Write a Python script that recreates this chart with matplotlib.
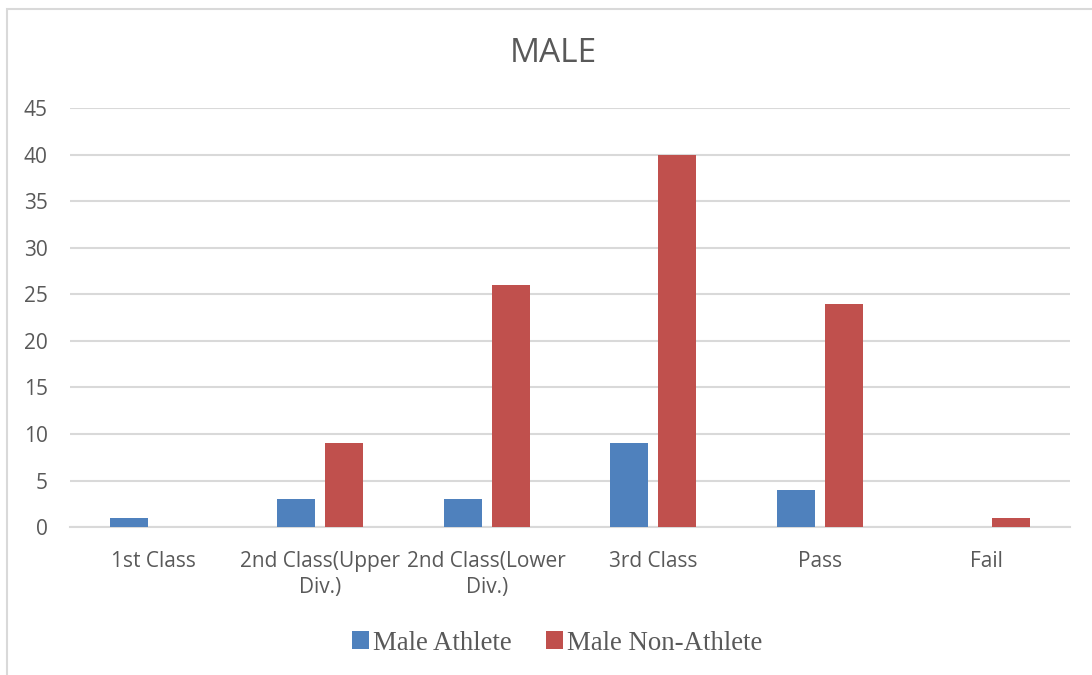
import numpy as np
import matplotlib.pyplot as plt
from matplotlib.patches import Rectangle

# datos
categorias = ["1st Class", "2nd Class(Upper\nDiv.)", "2nd Class(Lower\nDiv.)",
              "3rd Class", "Pass", "Fail"]
atleta = [1, 3, 3, 9, 4, 0]
no_atleta = [0, 9, 26, 40, 24, 1]
serie_nombres = ["Male Athlete", "Male Non-Athlete"]
titulo = "MALE"

azul = "#4F81BD"
rojo = "#C0504D"
gris_txt = "#595959"
gris_grid = "#D9D9D9"

fig = plt.figure(figsize=(10.92, 6.75), dpi=100)
ax = fig.add_axes([0.064, 0.219, 0.916, 0.621])

# marco del gráfico
fig.patches.append(Rectangle((7 / 1092, -0.05), 1.2, 1 - 9 / 675 + 0.05,
                             transform=fig.transFigure, fill=False,
                             edgecolor="#D9D9D9", linewidth=1.5))

x = np.arange(len(categorias))
ancho = 0.227
desp = 0.144
b1 = ax.bar(x - desp, atleta, ancho, color=azul, label=serie_nombres[0], zorder=3)
b2 = ax.bar(x + desp, no_atleta, ancho, color=rojo, label=serie_nombres[1], zorder=3)

ax.set_xlim(-0.5, len(categorias) - 0.5)
ax.set_ylim(0, 45)
ax.set_yticks(range(0, 46, 5))
ax.yaxis.grid(True, color=gris_grid, linewidth=1.5, zorder=0)
ax.set_axisbelow(True)
for s in ["top", "right", "left"]:
    ax.spines[s].set_visible(False)
ax.spines["bottom"].set_color(gris_grid)
ax.spines["bottom"].set_linewidth(1.5)
ax.tick_params(length=0, colors=gris_txt, labelsize=15)
ax.tick_params(axis="y", pad=16)
ax.tick_params(axis="x", pad=17)
ax.set_xticks(x)
ax.set_xticklabels(categorias, family="Open Sans", linespacing=1.3)
for t in ax.get_yticklabels():
    t.set_family("Open Sans")

fig.text(0.507, 1 - 53 / 675, titulo, ha="center", va="center",
         fontsize=24, color=gris_txt, family="Open Sans")

leg = fig.legend(handles=[b1, b2], loc="center", bbox_to_anchor=(0.51, 1 - 643 / 675),
                 ncol=2, frameon=False, prop={"family": "Liberation Serif", "size": 19.3},
                 handlelength=0.65, handleheight=0.65, handletextpad=0.12, columnspacing=1.3)
for t in leg.get_texts():
    t.set_color(gris_txt)

plt.savefig("out.png", dpi=100)
